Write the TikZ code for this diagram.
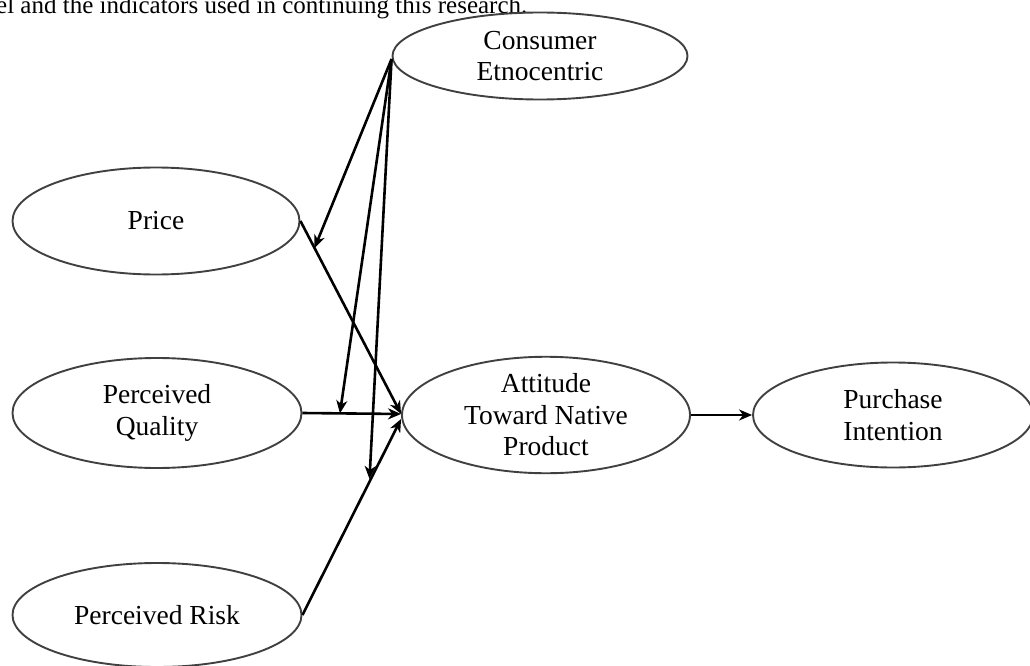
\documentclass[tikz,border=0pt]{standalone}
\usepackage{fontspec}
\setmainfont{Liberation Serif}
\usetikzlibrary{shapes.geometric,arrows.meta,calc}
\tikzset{
  ell/.style={ellipse, draw=black!75, line width=1.9pt, inner sep=0pt, align=center,
    font=\fontsize{27.5}{31.5}\selectfont},
  arr/.style={draw=black, line width=2.6pt, -{Stealth[length=13pt,width=11pt,inset=4pt]}}
}
\begin{document}
\begin{tikzpicture}[x=1pt,y=-1pt]
\useasboundingbox (0,0) rectangle (1030,666);
\node[anchor=base west, inner sep=0pt, font=\fontsize{25}{30}\selectfont] (cap) at (-4,14) {el and the indicators used in continuing this research.};
\node[ell, minimum width=295pt, minimum height=87pt] (cons) at (540,56) {Consumer\\Etnocentric};
\node[ell, minimum width=287pt, minimum height=107pt] (price) at (156,221) {Price};
\node[ell, minimum width=289pt, minimum height=110pt] (pq) at (157,413) {Perceived\\Quality};
\node[ell, minimum width=289pt, minimum height=104pt] (pr) at (157,615) {Perceived Risk};
\node[ell, minimum width=288pt, minimum height=106pt] (att) at (546,415) {Attitude\\Toward Native\\Product};
\node[ell, minimum width=280pt, minimum height=105pt] (pi) at (893,415) {Purchase\\Intention};

\coordinate (attin) at ($(att.west)+(0,-1)$);
\draw[arr] (price.east) -- (attin);
\draw[arr] (pq.east) -- (attin);
\draw[arr] (pr.east) -- ($(att.west)+(0,4)$);
\draw[arr] (att.east) -- (pi.west);

\coordinate (m1) at ($(price.east)!0.14!(attin)$);
\coordinate (m2) at ($(pq.east)!0.38!(attin)$);
\coordinate (m3) at ($(pr.east)!0.68!(att.west)$);
\coordinate (src) at ($(cons.west)+(0,3)$);
\draw[arr] (src) -- (m1);
\draw[arr] (src) -- (m2);
\draw[arr] (src) -- (m3);
\end{tikzpicture}
\end{document}
